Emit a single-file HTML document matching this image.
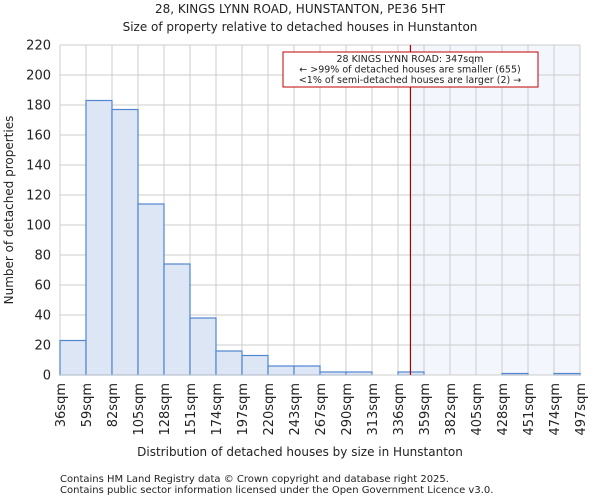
<!DOCTYPE html>
<html><head><meta charset="utf-8"><style>
body{margin:0;background:#fff;font-family:"DejaVu Sans","Liberation Sans",sans-serif;}
svg text{font-family:"DejaVu Sans","Liberation Sans",sans-serif;fill:#222;}
</style></head><body>
<svg id="chart" width="600" height="500" xmlns="http://www.w3.org/2000/svg">
<text x="300" y="13" font-size="12" text-anchor="middle">28, KINGS LYNN ROAD, HUNSTANTON, PE36 5HT</text>
<text x="300" y="31" font-size="12" text-anchor="middle">Size of property relative to detached houses in Hunstanton</text>
<g id="plot"></g>
<text x="300" y="456" font-size="12" text-anchor="middle">Distribution of detached houses by size in Hunstanton</text>
<text transform="translate(13,210) rotate(-90)" font-size="12" text-anchor="middle">Number of detached properties</text>
<text x="60" y="482" font-size="10" fill="#444">Contains HM Land Registry data © Crown copyright and database right 2025.</text>
<text x="60" y="493" font-size="10" fill="#444">Contains public sector information licensed under the Open Government Licence v3.0.</text>
</svg>
<script>
const edgeLabels=[36,59,82,105,128,151,174,197,220,243,267,290,313,336,359,382,405,428,451,474,497];
const counts=[23,183,177,114,74,38,16,13,6,6,2,2,0,2,0,0,0,1,0,1];
const yTicks=[0,20,40,60,80,100,120,140,160,180,200,220];
const subjectSize=347;
const NS="http://www.w3.org/2000/svg";
const L=60,R=580,T=45,B=375,yMax=220;
const g=document.getElementById('plot');
const bw=(R-L)/counts.length;
function xIdx(i){return L+i*bw;}
function xVal(v){for(let i=0;i<edgeLabels.length-1;i++){if(v<=edgeLabels[i+1])return xIdx(i)+(v-edgeLabels[i])/(edgeLabels[i+1]-edgeLabels[i])*bw;}return R;}
function y(v){return B-v/yMax*(B-T);}
function mk(t,a){const e=document.createElementNS(NS,t);for(const k in a)e.setAttribute(k,a[k]);g.appendChild(e);return e;}
const xs=xVal(subjectSize);
let e=mk('rect',{x:xs,y:T,width:R-xs,height:B-T,fill:'#f4f6fd'});


yTicks.forEach(v=>{
 let l=mk('line',{x1:L,x2:R,y1:y(v),y2:y(v),stroke:'#ccc'});
 
 
 let t=mk('text',{x:L-9,y:y(v)+4.5,'font-size':13,'text-anchor':'end'});t.textContent=v;
 
 
});
edgeLabels.forEach((v,i)=>{
 let l=mk('line',{x1:xIdx(i),x2:xIdx(i),y1:T,y2:B,stroke:'#ccc'});
 
 
 let t=mk('text',{transform:`translate(${xIdx(i)+5},${B+8}) rotate(-90)`,'font-size':13,'text-anchor':'end'});t.textContent=v+'sqm';
 
 
});
counts.forEach((c,i)=>{
 if(c<=0)return;
 let r=mk('rect',{x:xIdx(i),y:y(c),width:bw,height:B-y(c),fill:'#dce6f4',stroke:'#4f86d0','stroke-width':1.2});
 
 
});
let ax=mk('line',{x1:L,x2:R,y1:B,y2:B,stroke:'#ccc'});


let ml=mk('line',{x1:xs,x2:xs,y1:T,y2:B,stroke:'#b00000','stroke-width':1.2});


let bx=mk('rect',{x:283,y:52,width:255,height:35,fill:'#fff',stroke:'#c00000','stroke-width':1});


['28 KINGS LYNN ROAD: 347sqm','← >99% of detached houses are smaller (655)','<1% of semi-detached houses are larger (2) →'].forEach((s,i)=>{
 let t=mk('text',{x:410,y:62+i*10.5,'font-size':9.5,'text-anchor':'middle'});t.textContent=s;
 
 
});
</script>
</body></html>
